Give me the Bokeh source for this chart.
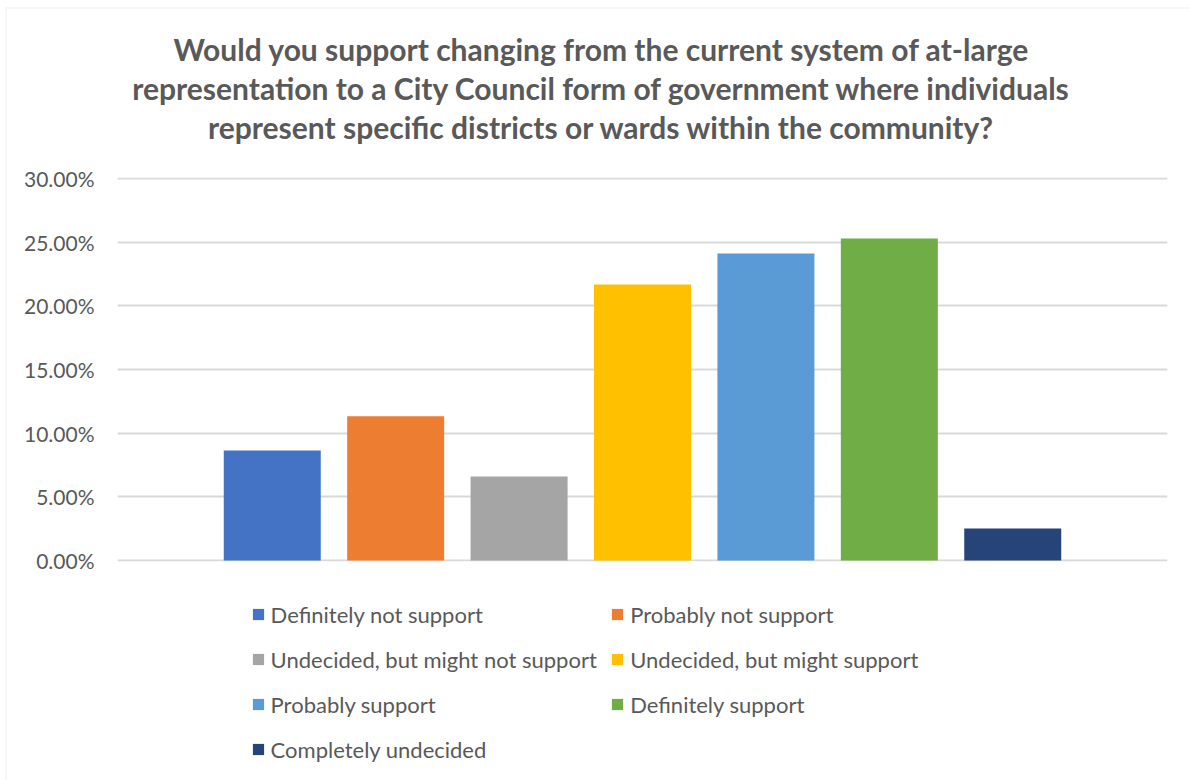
from bokeh.plotting import figure
from bokeh.layouts import row, column
from bokeh.models import (Range1d, FixedTicker, NumeralTickFormatter, Label, Legend,
                          LegendItem, ColumnDataSource, BoxAnnotation)
from bokeh.embed import file_html
from bokeh.resources import INLINE

# ---- data ----
title_lines = [
    "Would you support changing from the current system of at-large",
    "representation to a City Council form of government where individuals",
    "represent specific districts or wards within the community?",
]
series = [
    "Definitely not support",
    "Probably not support",
    "Undecided, but might not support",
    "Undecided, but might support",
    "Probably support",
    "Definitely support",
    "Completely undecided",
]
shares = [0.0864, 0.1133, 0.0660, 0.2168, 0.2411, 0.2529, 0.0251]
colors = ["#4472C4", "#ED7D31", "#A5A5A5", "#FFC000", "#5B9BD5", "#70AD47", "#264478"]
y_ticks = [0.0, 0.05, 0.10, 0.15, 0.20, 0.25, 0.30]

TEXT = "#595959"
GRID = "#D9D9D9"
FONT = "Lato"

n = len(series)
src = ColumnDataSource(dict(x=list(range(n)), top=shares, color=colors, name=series))


def blank(width, height, x0, x1, y_top, y_bottom):
    f = figure(width=width, height=height,
               x_range=Range1d(x0, x1), y_range=Range1d(y_bottom, y_top),
               min_border=0, min_border_left=0, min_border_right=0,
               min_border_top=0, min_border_bottom=0,
               output_backend="svg", toolbar_location=None)
    f.frame_align = False
    f.axis.visible = False
    f.grid.grid_line_color = None
    f.outline_line_color = None
    f.background_fill_color = "white"
    f.border_fill_color = "white"
    return f


# ---- left strip (chart border) ----
strip = blank(12, 780, 0, 12, 0, 780)
strip.add_layout(BoxAnnotation(left=5.5, right=100, top=7.5, bottom=2000,
                               fill_alpha=0, line_color=GRID, line_width=1.5))

# ---- title ----
tfig = blank(1178, 160, 12, 1190, 0, 160)
tfig.add_layout(BoxAnnotation(left=-100, right=2000, top=7.5, bottom=2000,
                              fill_alpha=0, line_color=GRID, line_width=1.5))
for line, yc in zip(title_lines, [48, 87, 126]):
    tfig.add_layout(Label(x=601, y=yc, text=line,
                          text_align="center", text_baseline="middle",
                          text_font=FONT, text_font_style="bold",
                          text_font_size="30px", text_color=TEXT))

# ---- main chart ----
half = 4.254
pad = (y_ticks[-1] - y_ticks[0]) / 382.0
fig = figure(width=1178, height=430,
             x_range=Range1d((n - 1) / 2 - half, (n - 1) / 2 + half),
             y_range=Range1d(y_ticks[0] - pad, y_ticks[-1] + pad),
             min_border_left=105, min_border_right=23,
             min_border_top=17, min_border_bottom=29,
             output_backend="svg", toolbar_location=None)
fig.frame_align = False
fig.outline_line_color = None
fig.background_fill_color = "white"
fig.border_fill_color = "white"

r = fig.vbar(x="x", top="top", width=0.786, bottom=0, fill_color="color",
             line_color=None, source=src)

fig.xaxis.visible = False
fig.xgrid.grid_line_color = None
fig.ygrid.grid_line_color = GRID
fig.ygrid.grid_line_width = 2
fig.ygrid.ticker = FixedTicker(ticks=y_ticks)

ax = fig.yaxis[0]
ax.ticker = FixedTicker(ticks=y_ticks)
ax.formatter = NumeralTickFormatter(format="0.00%")
ax.axis_line_color = None
ax.major_tick_line_color = None
ax.minor_tick_line_color = None
ax.major_tick_in = 0
ax.major_tick_out = 0
ax.major_label_standoff = 23
ax.major_label_text_font = FONT
ax.major_label_text_font_size = "21px"
ax.major_label_text_color = TEXT

# ---- legend ----
lfig = blank(1178, 190, 12, 1190, 590, 780)
lr = lfig.vbar(x="x", top="top", width=0.786, bottom=0, fill_color="color",
               line_color=None, source=src, visible=False)


def make_legend(idxs, loc):
    items = [LegendItem(label=series[i], renderers=[lr], index=i) for i in idxs]
    lg = Legend(items=items, location=loc, orientation="vertical",
                glyph_width=14, glyph_height=14, label_height=27, spacing=18,
                label_standoff=6, padding=0, margin=0,
                border_line_color=None, background_fill_alpha=0,
                label_text_font=FONT, label_text_font_size="22px",
                label_text_color=TEXT, click_policy="none")
    lfig.add_layout(lg, "center")


make_legend([0, 2, 4, 6], (238.6, 17.5))
make_legend([1, 3, 5], (598.2, 62.5))

p = row(strip, column(tfig, fig, lfig, spacing=0), spacing=0)

open("out.html", "w").write(file_html(p, INLINE))
